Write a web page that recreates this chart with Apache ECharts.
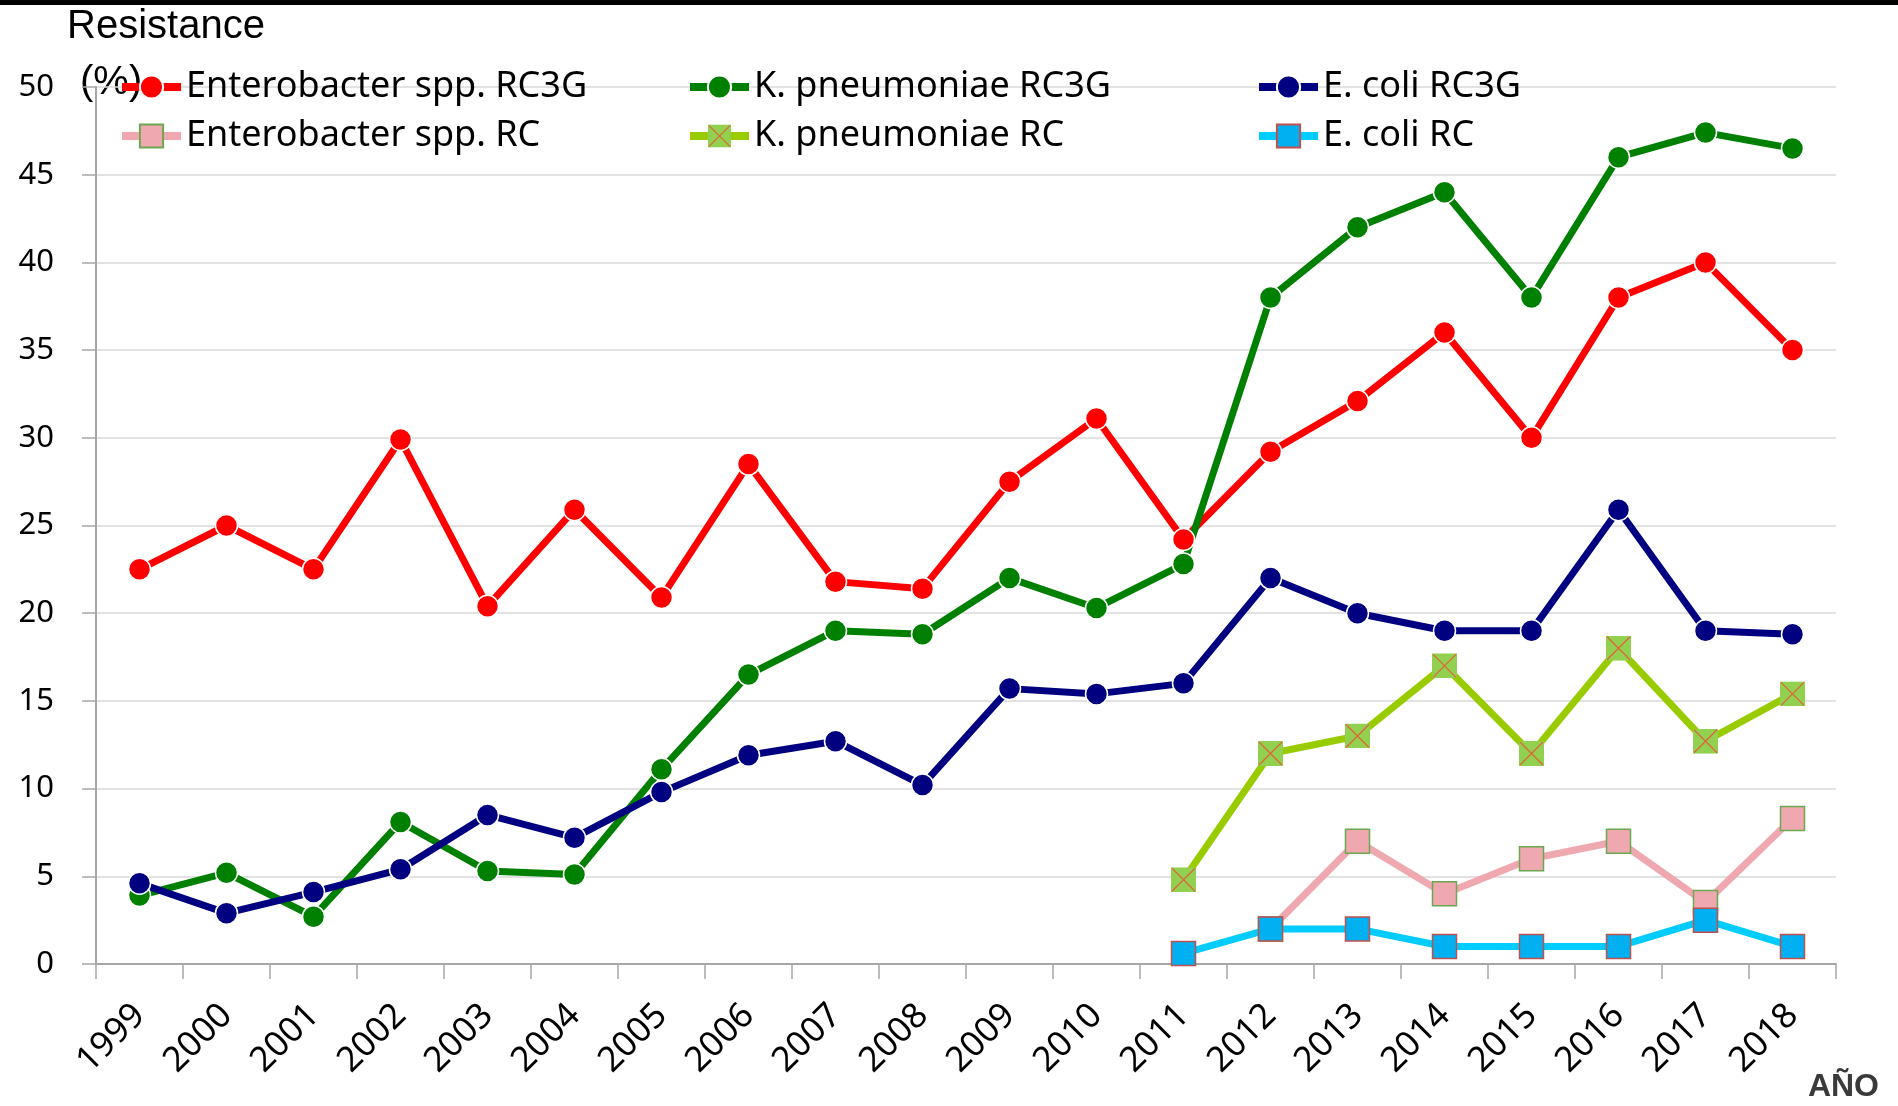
<!DOCTYPE html>
<html>
<head>
<meta charset="utf-8">
<title>Resistance</title>
<script src="https://cdn.jsdelivr.net/npm/echarts@6/dist/echarts.min.js"></script>
<style>
	html, body { margin: 0; padding: 0; background: #fff; }
	#chart { width: 1898px; height: 1106px; }
</style>
</head>
<body>
<div id="chart"></div>
<script>
	// years on the x axis
	var years = ['1999', '2000', '2001', '2002', '2003', '2004', '2005', '2006', '2007', '2008',
		'2009', '2010', '2011', '2012', '2013', '2014', '2015', '2016', '2017', '2018'];
	var yTicks = [0, 5, 10, 15, 20, 25, 30, 35, 40, 45, 50];

	// values (%)
	var enterobacterRC3G = [22.5, 25.0, 22.5, 29.9, 20.4, 25.9, 20.9, 28.5, 21.8, 21.4,
		27.5, 31.1, 24.2, 29.2, 32.1, 36.0, 30.0, 38.0, 40.0, 35.0];
	var kpneumoniaeRC3G = [3.9, 5.2, 2.7, 8.1, 5.3, 5.1, 11.1, 16.5, 19.0, 18.8,
		22.0, 20.3, 22.8, 38.0, 42.0, 44.0, 38.0, 46.0, 47.4, 46.5];
	var ecoliRC3G = [4.6, 2.9, 4.1, 5.4, 8.5, 7.2, 9.8, 11.9, 12.7, 10.2,
		15.7, 15.4, 16.0, 22.0, 20.0, 19.0, 19.0, 25.9, 19.0, 18.8];
	var enterobacterRC = [null, null, null, null, null, null, null, null, null, null,
		null, null, null, 2.0, 7.0, 4.0, 6.0, 7.0, 3.5, 8.3];
	var kpneumoniaeRC = [null, null, null, null, null, null, null, null, null, null,
		null, null, 4.8, 12.0, 13.0, 17.0, 12.0, 18.0, 12.7, 15.4];
	var ecoliRC = [null, null, null, null, null, null, null, null, null, null,
		null, null, 0.6, 2.0, 2.0, 1.0, 1.0, 1.0, 2.5, 1.0];

	var crossSquare = 'image://data:image/svg+xml;charset=utf-8,' + encodeURIComponent(
		"<svg xmlns='http://www.w3.org/2000/svg' width='50' height='50'>" +
		"<rect x='0' y='0' width='50' height='50' fill='#92D050'/>" +
		"<path d='M2 2L48 48M48 2L2 48' stroke='#E0653A' stroke-width='2.5'/></svg>");

	function circleSeries(name, color, data) {
		return {
			name: name, type: 'line', data: data,
			symbol: 'circle', symbolSize: 22,
			lineStyle: { color: color, width: 7 },
			itemStyle: { color: color, borderColor: '#fff', borderWidth: 1.5 }
		};
	}

	var legendBase = {
		orient: 'vertical',
		top: 67,
		padding: 0,
		itemWidth: 59,
		itemHeight: 29,
		itemGap: 9,
		selectedMode: false,
		lineStyle: { width: 8 },
		textStyle: { fontFamily: 'Noto Sans', fontSize: 36, color: '#000', lineHeight: 40 }
	};

	var option = {
		animation: false,
		backgroundColor: '#fff',
		grid: { left: 96, right: 62, top: 87, bottom: 142 },
		legend: [
			Object.assign({}, legendBase, { left: 118, data: ['Enterobacter spp. RC3G', 'Enterobacter spp. RC'] }),
			Object.assign({}, legendBase, { left: 686, data: ['K. pneumoniae RC3G', 'K. pneumoniae RC'] }),
			Object.assign({}, legendBase, { left: 1255, data: ['E. coli RC3G', 'E. coli RC'] })
		],
		graphic: [
			{ type: 'rect', left: 0, top: 0, shape: { width: 1898, height: 5 }, style: { fill: '#000' } },
			{ type: 'text', left: 67, top: 7, style: { text: 'Resistance', font: '40px "Liberation Sans"', fill: '#000' } },
			{ type: 'text', left: 80, top: 63, style: { text: '(%)', font: '40px "Liberation Sans"', fill: '#000' } },
			{ type: 'text', right: 19, top: 1071, style: { text: 'AÑO', font: 'bold 32px "Liberation Sans"', fill: '#3a3a3a' } }
		],
		xAxis: {
			type: 'category',
			data: years,
			boundaryGap: true,
			axisLine: { lineStyle: { color: '#a6a6a6', width: 2 } },
			axisTick: { show: true, interval: 0, length: 15, lineStyle: { color: '#a6a6a6', width: 1.5 } },
			axisLabel: { interval: 0, rotate: 45, margin: 46, fontFamily: 'Noto Sans', fontSize: 35, color: '#000' }
		},
		yAxis: {
			type: 'value',
			min: yTicks[0],
			max: yTicks[yTicks.length - 1],
			interval: 5,
			axisLine: { show: true, lineStyle: { color: '#a6a6a6', width: 2 } },
			axisTick: { show: true, length: 14, lineStyle: { color: '#a6a6a6', width: 1.5 } },
			axisLabel: { margin: 42, fontFamily: 'Noto Sans', fontSize: 31, color: '#000' },
			splitLine: { lineStyle: { color: '#d9d9d9', width: 1.5 } }
		},
		series: [
			circleSeries('Enterobacter spp. RC3G', '#ff0000', enterobacterRC3G),
			circleSeries('K. pneumoniae RC3G', '#008000', kpneumoniaeRC3G),
			circleSeries('E. coli RC3G', '#000080', ecoliRC3G),
			{
				name: 'Enterobacter spp. RC', type: 'line', data: enterobacterRC,
				symbol: 'rect', symbolSize: 24,
				lineStyle: { color: '#f0a8b0', width: 7 },
				itemStyle: { color: '#f0a8b0', borderColor: '#6aa84f', borderWidth: 1.5 }
			},
			{
				name: 'K. pneumoniae RC', type: 'line', data: kpneumoniaeRC,
				symbol: crossSquare, symbolSize: 25,
				lineStyle: { color: '#99cc00', width: 7 },
				itemStyle: { color: '#92d050' }
			},
			{
				name: 'E. coli RC', type: 'line', data: ecoliRC,
				symbol: 'rect', symbolSize: 24,
				lineStyle: { color: '#00ccff', width: 7 },
				itemStyle: { color: '#00b0f0', borderColor: '#c0504d', borderWidth: 1.5 }
			}
		]
	};

	var chart = echarts.init(document.getElementById('chart'));
	chart.setOption(option);
</script>
</body>
</html>
